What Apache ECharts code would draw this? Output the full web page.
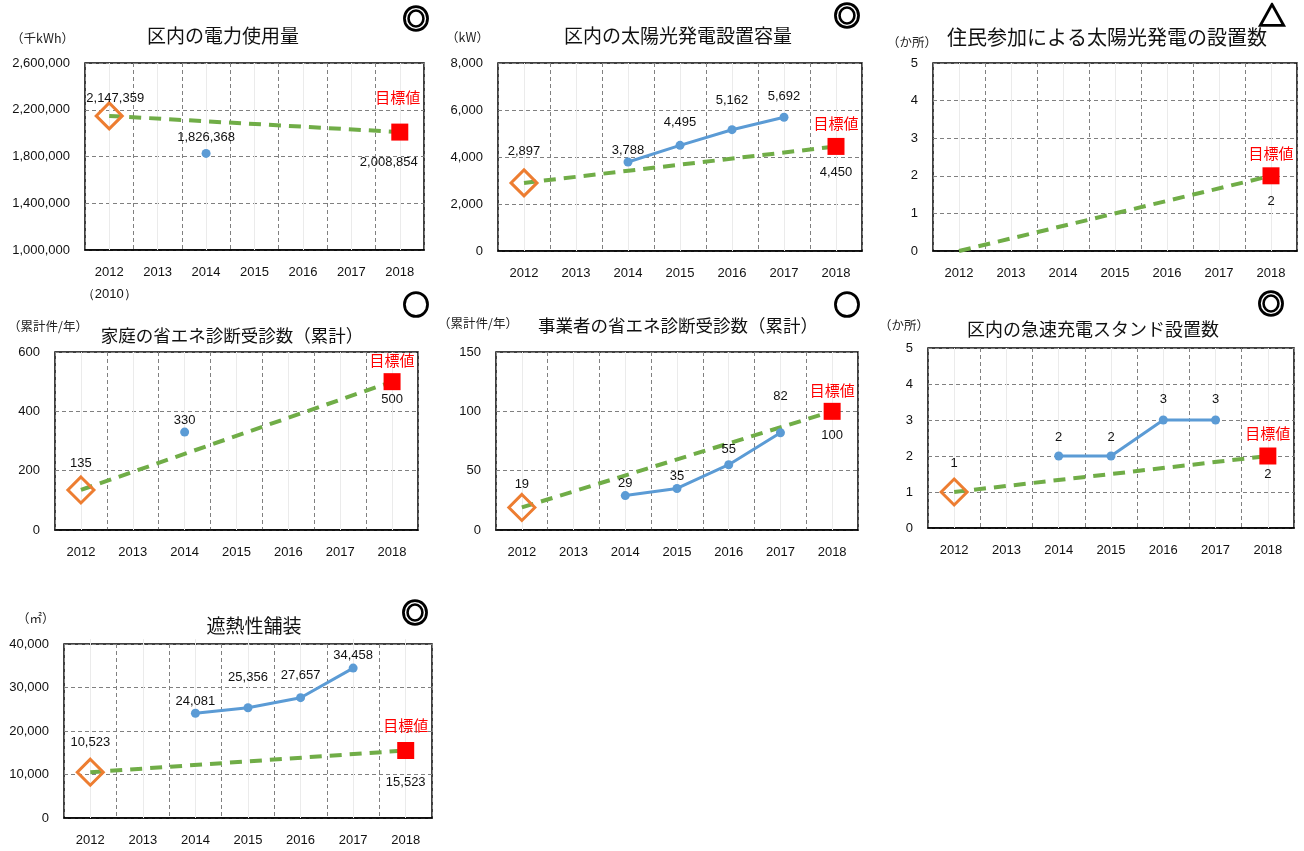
<!DOCTYPE html>
<html lang="ja">
<head>
<meta charset="utf-8">
<title>区内の環境指標</title>
<script src="https://cdn.jsdelivr.net/npm/echarts@6/dist/echarts.min.js"></script>
<style>
  html, body { margin: 0; padding: 0; background: #fff; }
  #chart { width: 1304px; height: 851px; }
</style>
</head>
<body>
<div id="chart"></div>
<script>
// ---- data -------------------------------------------------------------
const years = ['2012', '2013', '2014', '2015', '2016', '2017', '2018'];
const powerYears = ['2012\n（2010）', '2013', '2014', '2015', '2016', '2017', '2018'];

// 区内の電力使用量 (千kWh)
const powerBase = 2147359;
const powerActual = [null, null, 1826368, null, null, null, null];
const powerTarget = 2008854;

// 区内の太陽光発電設置容量 (kW)
const solarBase = 2897;
const solarActual = [null, null, 3788, 4495, 5162, 5692, null];
const solarTarget = 4450;

// 住民参加による太陽光発電の設置数 (か所)
const citizenBase = 0;
const citizenActual = [null, null, null, null, null, null, null];
const citizenTarget = 2;

// 家庭の省エネ診断受診数（累計）
const homeBase = 135;
const homeActual = [null, null, 330, null, null, null, null];
const homeTarget = 500;

// 事業者の省エネ診断受診数（累計）
const bizBase = 19;
const bizActual = [null, null, 29, 35, 55, 82, null];
const bizTarget = 100;

// 区内の急速充電スタンド設置数 (か所)
const evBase = 1;
const evActual = [null, null, 2, 2, 3, 3, null];
const evTarget = 2;

// 遮熱性舗装 (㎡)
const paveBase = 10523;
const paveActual = [null, null, 24081, 25356, 27657, 34458, null];
const paveTarget = 15523;

// y-axis ranges [min, max, step]
const powerAxis = [1000000, 2600000, 400000];
const solarAxis = [0, 8000, 2000];
const citizenAxis = [0, 5, 1];
const homeAxis = [0, 600, 200];
const bizAxis = [0, 150, 50];
const evAxis = [0, 5, 1];
const paveAxis = [0, 40000, 10000];

// ---- panels -----------------------------------------------------------
const JP = '"Noto Sans CJK JP", "Noto Sans", sans-serif';
const NUM = '"Liberation Sans", Arial, sans-serif';
const fmt = v => String(v).replace(/\B(?=(\d{3})+(?!\d))/g, ',');

// layout and label nudges per panel (pixels)
const panels = [
  { title: '区内の電力使用量', titleSize: 19, titlePos: [223, 36],
    unit: '（千kWh）', unitPos: [11, 38], mark: '◎', markPos: [416, 19],
    box: [85, 63, 339, 187], cats: powerYears, axis: powerAxis,
    base: powerBase, actual: powerActual, target: powerTarget, showBase: true,
    baseShift: [6, 10], targetShift: [-11, 6], tagShift: [-2, -12],
    actualLift: [0, 0, 3, 0, 0, 0, 0] },
  { title: '区内の太陽光発電設置容量', titleSize: 19, titlePos: [678, 36],
    unit: '（kW）', unitPos: [446, 37], mark: '◎', markPos: [847, 16],
    box: [498, 63, 364, 188], cats: years, axis: solarAxis,
    base: solarBase, actual: solarActual, target: solarTarget, showBase: true,
    baseShift: [0, -4], targetShift: [0, 2], tagShift: [0, 0],
    actualLift: [0, 0, 7, -4, -10, -2, 0] },
  { title: '住民参加による太陽光発電の設置数', titleSize: 20, titlePos: [1107, 37],
    unit: '（か所）', unitPos: [887, 42], mark: '△', markPos: [1272, 16],
    box: [933, 63, 364, 188], cats: years, axis: citizenAxis,
    base: citizenBase, actual: citizenActual, target: citizenTarget, showBase: false,
    baseShift: [0, 0], targetShift: [0, 2], tagShift: [0, 0],
    actualLift: [0, 0, 0, 0, 0, 0, 0] },
  { title: '家庭の省エネ診断受診数（累計）', titleSize: 17.5, titlePos: [232, 335],
    unit: '（累計件/年）', unitPos: [8, 326], mark: '○', markPos: [416, 305],
    box: [55, 352, 363, 178], cats: years, axis: homeAxis,
    base: homeBase, actual: homeActual, target: homeTarget, showBase: true,
    baseShift: [0, 0], targetShift: [0, -6], tagShift: [0, 2],
    actualLift: [0, 0, 7, 0, 0, 0, 0] },
  { title: '事業者の省エネ診断受診数（累計）', titleSize: 17.5, titlePos: [678, 325],
    unit: '（累計件/年）', unitPos: [438, 323], mark: '○', markPos: [847, 305],
    box: [496, 352, 362, 178], cats: years, axis: bizAxis,
    base: bizBase, actual: bizActual, target: bizTarget, showBase: true,
    baseShift: [0, 4], targetShift: [0, 0], tagShift: [0, 2],
    actualLift: [0, 0, 7, 7, 4, -17, 0] },
  { title: '区内の急速充電スタンド設置数', titleSize: 18, titlePos: [1093, 329],
    unit: '（か所）', unitPos: [879, 325], mark: '◎', markPos: [1271, 304],
    box: [928, 348, 366, 180], cats: years, axis: evAxis,
    base: evBase, actual: evActual, target: evTarget, showBase: true,
    baseShift: [0, -2], targetShift: [0, -6], tagShift: [0, 0],
    actualLift: [0, 0, 0, 0, -2, -2, 0] },
  { title: '遮熱性舗装', titleSize: 19, titlePos: [254, 626],
    unit: '（㎡）', unitPos: [17, 618], mark: '◎', markPos: [415, 613],
    box: [64, 644, 368, 179], cats: years, axis: paveAxis,
    base: paveBase, actual: paveActual, target: paveTarget, showBase: true,
    baseShift: [0, -3], targetShift: [0, 8], tagShift: [0, -2],
    actualLift: [0, 0, 7, -11, -3, 6, 0] }
];

const option = {
  animation: false,
  backgroundColor: '#ffffff',
  grid: [], xAxis: [], yAxis: [], series: [], graphic: []
};

const dashGrey = { color: '#808080', width: 1, type: [4, 3] };
const labelText = { fontFamily: NUM, fontSize: 13, color: '#111' };

panels.forEach((p, i) => {
  const [left, top, width, height] = p.box;
  const last = p.cats.length - 1;

  option.grid.push({
    left, top, width, height, show: true,
    borderColor: '#000', borderWidth: 1.5, backgroundColor: 'transparent'
  });

  option.xAxis.push({
    type: 'category', gridIndex: i, data: p.cats, boundaryGap: true,
    axisLine: { show: true, lineStyle: { color: '#000', width: 1.5 } },
    // faint lines through each category centre
    axisTick: { show: true, inside: true, alignWithLabel: true, length: height,
                lineStyle: { color: '#ebebeb', width: 1 } },
    axisLabel: { interval: 0, margin: 11, fontFamily: NUM, fontSize: 13,
                 color: '#111', lineHeight: 22 },
    splitLine: { show: true, interval: 0, lineStyle: dashGrey }
  });

  option.yAxis.push({
    type: 'value', gridIndex: i,
    min: p.axis[0], max: p.axis[1], interval: p.axis[2],
    axisLine: { show: false }, axisTick: { show: false },
    axisLabel: { margin: 15, fontFamily: NUM, fontSize: 13, color: '#111',
                 formatter: v => fmt(v) },
    splitLine: { show: true, lineStyle: dashGrey }
  });

  // straight target path from the base year to the target year
  const goal = p.cats.map((_, k) => (k === 0 ? p.base : k === last ? p.target : null));
  option.series.push({
    type: 'line', xAxisIndex: i, yAxisIndex: i, data: goal, connectNulls: true,
    symbol: 'none', silent: true, z: 2,
    lineStyle: { color: '#70AD47', width: 4, type: [12, 8], cap: 'butt' }
  });

  if (p.actual.some(v => v !== null)) {
    option.series.push({
      type: 'line', xAxisIndex: i, yAxisIndex: i,
      data: p.actual.map((v, k) => (v === null ? null
        : { value: v, label: { offset: [0, p.actualLift[k]] } })),
      connectNulls: false, symbol: 'circle', symbolSize: 9, showSymbol: true, z: 4,
      lineStyle: { color: '#5B9BD5', width: 3 },
      itemStyle: { color: '#5B9BD5', opacity: 1 },
      label: Object.assign({ show: true, position: 'top', distance: 8,
                             formatter: d => fmt(d.value) }, labelText)
    });
  }

  if (p.showBase) {
    option.series.push({
      type: 'scatter', xAxisIndex: i, yAxisIndex: i, data: [[0, p.base]],
      symbol: 'diamond', symbolSize: 26, z: 3,
      itemStyle: { color: 'rgba(255,255,255,0)', borderColor: '#ED7D31',
                   borderWidth: 3, opacity: 1 },
      label: Object.assign({ show: true, position: 'top', distance: 6, offset: p.baseShift,
                             formatter: d => fmt(d.value[1]) }, labelText)
    });
  }

  option.series.push({
    type: 'scatter', xAxisIndex: i, yAxisIndex: i, data: [[last, p.target]],
    symbol: 'rect', symbolSize: 17, z: 5,
    itemStyle: { color: '#FF0000', opacity: 1 },
    label: Object.assign({ show: true, position: 'bottom', distance: 9, offset: p.targetShift,
                           formatter: d => fmt(d.value[1]) }, labelText)
  });
  option.series.push({
    type: 'scatter', xAxisIndex: i, yAxisIndex: i, data: [[last, p.target]],
    symbol: 'rect', symbolSize: 17, z: 5, silent: true,
    itemStyle: { color: 'rgba(0,0,0,0)', opacity: 1 },
    label: { show: true, position: 'top', distance: 7, offset: p.tagShift,
             formatter: '目標値', fontFamily: JP, fontSize: 15, color: '#FF0000' }
  });

  option.graphic.push({
    type: 'text', x: p.titlePos[0], y: p.titlePos[1], silent: true,
    style: { text: p.title, font: `${p.titleSize}px ${JP}`, fill: '#111',
             align: 'center', verticalAlign: 'middle',
             textAlign: 'center', textVerticalAlign: 'middle' }
  });
  option.graphic.push({
    type: 'text', x: p.unitPos[0], y: p.unitPos[1], silent: true,
    style: { text: p.unit, font: `12.5px ${JP}`, fill: '#222',
             align: 'left', verticalAlign: 'middle',
             textAlign: 'left', textVerticalAlign: 'middle' }
  });
  option.graphic.push({
    type: 'text', x: p.markPos[0], y: p.markPos[1], silent: true,
    style: { text: p.mark, font: `bold 27px ${JP}`, fill: '#000',
             stroke: '#000', lineWidth: 1.6,
             align: 'center', verticalAlign: 'middle',
             textAlign: 'center', textVerticalAlign: 'middle' }
  });
});

const chart = echarts.init(document.getElementById('chart'), null, { renderer: 'canvas' });
chart.setOption(option);
</script>
</body>
</html>
